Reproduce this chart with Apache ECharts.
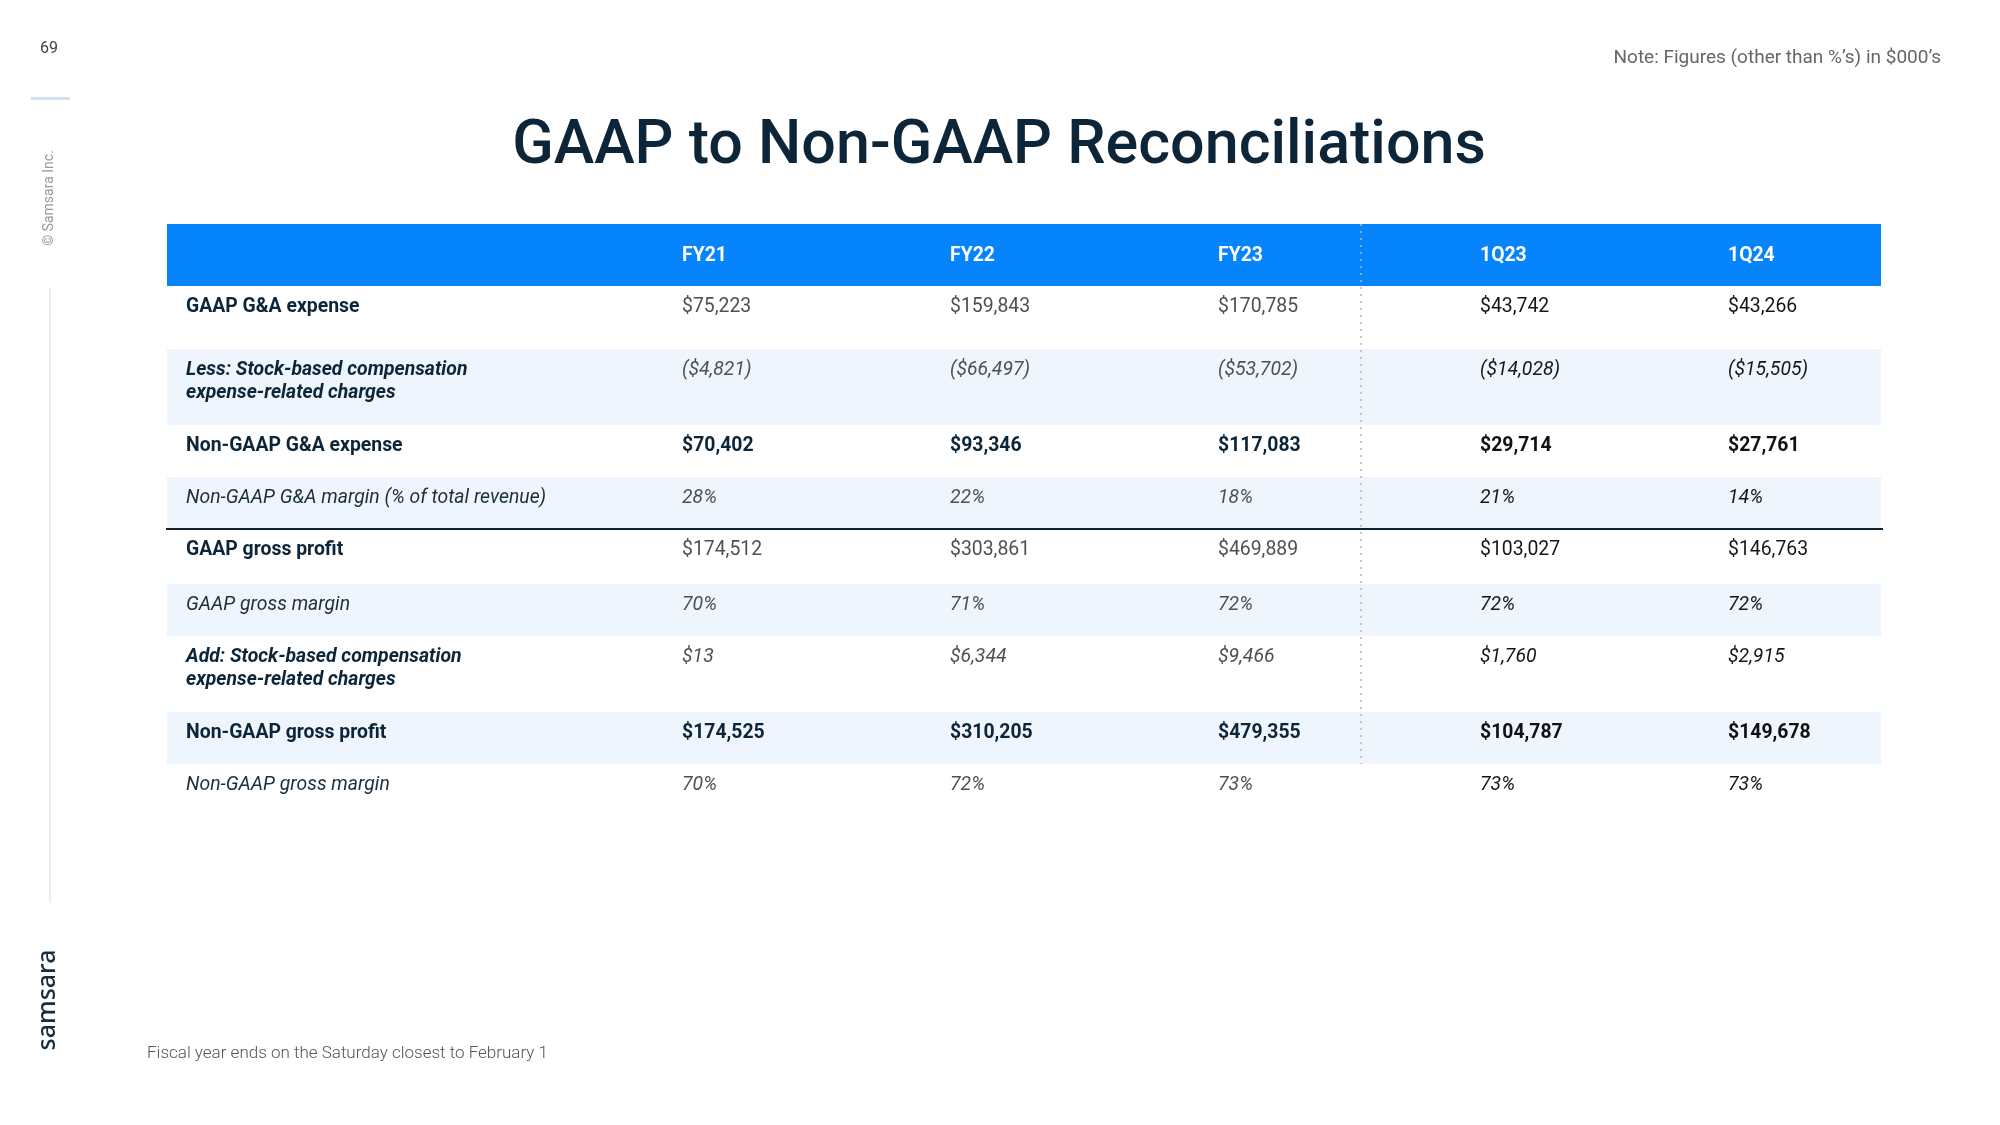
<!DOCTYPE html>
<html>
<head>
<meta charset="utf-8">
<script src="https://cdn.jsdelivr.net/npm/echarts@6/dist/echarts.min.js"></script>
<style>
html,body{margin:0;padding:0;background:#fff;}
#chart{width:2000px;height:1125px;}
</style>
</head>
<body>
<div id="chart"></div>
<script>
// ---------- DATA ----------
const categories = ['FY21', 'FY22', 'FY23', '1Q23', '1Q24'];
const rowLabels = [
  'GAAP G&A expense',
  'Less: Stock-based compensation\nexpense-related charges',
  'Non-GAAP G&A expense',
  'Non-GAAP G&A margin (% of total revenue)',
  'GAAP gross profit',
  'GAAP gross margin',
  'Add: Stock-based compensation\nexpense-related charges',
  'Non-GAAP gross profit',
  'Non-GAAP gross margin'
];
const gaapGAExpense = [75223, 159843, 170785, 43742, 43266];
const sbcGACharges = [-4821, -66497, -53702, -14028, -15505];
const nonGaapGAExpense = [70402, 93346, 117083, 29714, 27761];
const nonGaapGAMargin = [28, 22, 18, 21, 14];
const gaapGrossProfit = [174512, 303861, 469889, 103027, 146763];
const gaapGrossMargin = [70, 71, 72, 72, 72];
const sbcGrossCharges = [13, 6344, 9466, 1760, 2915];
const nonGaapGrossProfit = [174525, 310205, 479355, 104787, 149678];
const nonGaapGrossMargin = [70, 72, 73, 73, 73];
const rowValues = [gaapGAExpense, sbcGACharges, nonGaapGAExpense, nonGaapGAMargin,
  gaapGrossProfit, gaapGrossMargin, sbcGrossCharges, nonGaapGrossProfit, nonGaapGrossMargin];
const rowKinds = ['usd', 'usd', 'usd', 'pct', 'usd', 'pct', 'usd', 'usd', 'pct'];
const titleText = 'GAAP to Non-GAAP Reconciliations';
const noteText = 'Note: Figures (other than %\u2019s) in $000\u2019s';
const footText = 'Fiscal year ends on the Saturday closest to February 1';

// ---------- STYLE / LAYOUT ----------
const FONT = 'Roboto, "Noto Sans", sans-serif';
const NAVY = '#0c2538';
const TBL_W = 1714, TBL_H = 592;
const colX = [19, 515, 783, 1051, 1313, 1561];
const rowTops = [62, 125, 201, 253, 305, 360, 412, 488, 540, 592];
const headerH = 62;
const shaded = [false, true, false, true, false, true, false, true, false];
const labelBold = [true, true, true, false, true, false, true, true, false];
const italic = [false, true, false, true, false, true, true, false, true];
const valueBold = [false, false, true, false, false, false, false, true, false];
const dividerAfterRow = 3;
const dottedX = 1194;
const FS = 19.4;

function fmt(v, kind) {
  if (kind === 'pct') return v + '%';
  const s = '$' + Math.abs(v).toLocaleString('en-US');
  return v < 0 ? '(' + s + ')' : s;
}

const cellData = [];
rowValues.forEach((arr, r) => arr.forEach((v, c) => cellData.push([c, r, v])));

const chart = echarts.init(document.getElementById('chart'), null, {renderer: 'canvas'});

const option = {
  backgroundColor: '#ffffff',
  animation: false,
  grid: {left: 167, top: 224, width: TBL_W, height: TBL_H},
  xAxis: {type: 'value', min: 0, max: TBL_W, show: false},
  yAxis: {type: 'value', min: 0, max: TBL_H, inverse: true, show: false},
  graphic: [
    {type: 'text', x: 40, y: 49, style: {text: '69', fill: '#444', font: '16px ' + FONT, verticalAlign: 'middle'}},
    {type: 'rect', shape: {x: 31, y: 97, width: 39, height: 3}, style: {fill: '#d3e0f0'}},
    {type: 'text', x: 49, y: 198, rotation: Math.PI / 2,
      style: {text: '\u00A9 Samsara Inc.', fill: '#9a9a9a', font: '14px ' + FONT, align: 'center', verticalAlign: 'middle'}},
    {type: 'line', shape: {x1: 50, y1: 288, x2: 50, y2: 903}, style: {stroke: '#e6e6e6', lineWidth: 1.5}},
    {type: 'text', x: 48, y: 1000, rotation: Math.PI / 2,
      style: {text: 'samsara', fill: '#1c2b3a', font: '500 25px "Noto Sans", sans-serif', align: 'center', verticalAlign: 'middle'}},
    {type: 'text', x: 999, y: 148,
      style: {text: titleText, fill: NAVY, font: '500 61px ' + FONT, align: 'center', verticalAlign: 'middle'}},
    {type: 'text', x: 1941, y: 58,
      style: {text: noteText, fill: '#666', font: '19px ' + FONT, align: 'right', verticalAlign: 'middle'}},
    {type: 'text', x: 147, y: 1054,
      style: {text: footText, fill: '#555', font: '300 17px ' + FONT, align: 'left', verticalAlign: 'middle'}}
  ],
  series: [
    {
      type: 'custom', coordinateSystem: 'cartesian2d', silent: true, z: 1,
      data: rowLabels.map((_, r) => [r]),
      renderItem: function (params, api) {
        const r = api.value(0);
        const children = [];
        const p0 = api.coord([0, rowTops[r]]);
        const p1 = api.coord([TBL_W, rowTops[r + 1]]);
        if (shaded[r]) {
          children.push({type: 'rect', shape: {x: p0[0], y: p0[1], width: p1[0] - p0[0], height: p1[1] - p0[1]},
            style: {fill: '#eef5fd'}});
        }
        if (r === 0) {
          const h0 = api.coord([0, 0]);
          const h1 = api.coord([TBL_W, headerH]);
          children.push({type: 'rect', shape: {x: h0[0], y: h0[1], width: h1[0] - h0[0], height: h1[1] - h0[1]},
            style: {fill: '#0584fb'}});
        }
        if (r === dividerAfterRow) {
          const a = api.coord([-1, rowTops[r + 1]]);
          const b = api.coord([TBL_W + 2, rowTops[r + 1]]);
          children.push({type: 'line', z2: 10, shape: {x1: a[0], y1: a[1], x2: b[0], y2: b[1]},
            style: {stroke: '#13222f', lineWidth: 2}});
        }
        return {type: 'group', children: children};
      }
    },
    {
      type: 'custom', coordinateSystem: 'cartesian2d', silent: true, z: 3,
      data: [[0]],
      renderItem: function (params, api) {
        const a = api.coord([dottedX, 0]);
        const b = api.coord([dottedX, rowTops[rowTops.length - 2]]);
        return {type: 'line', shape: {x1: a[0], y1: a[1], x2: b[0], y2: b[1]},
          style: {stroke: '#b5b5b5', lineWidth: 1.5, lineDash: [2, 5]}};
      }
    },
    {
      type: 'custom', coordinateSystem: 'cartesian2d', silent: true, z: 4,
      data: categories.map((c, i) => [i]),
      renderItem: function (params, api) {
        const i = api.value(0);
        const p = api.coord([colX[i + 1], 32]);
        return {type: 'text', x: p[0], y: p[1],
          style: {text: categories[i], fill: '#ffffff', fontFamily: FONT, fontSize: FS, fontWeight: 'bold',
            align: 'left', verticalAlign: 'middle'}};
      }
    },
    {
      type: 'custom', coordinateSystem: 'cartesian2d', silent: true, z: 4,
      data: rowLabels.map((_, r) => [r]),
      renderItem: function (params, api) {
        const r = api.value(0);
        const p = api.coord([colX[0], rowTops[r] + 21.5 - 11.5]);
        return {type: 'text', x: p[0], y: p[1],
          style: {text: rowLabels[r], fill: labelBold[r] ? NAVY : '#1d2e3d', fontFamily: FONT, fontSize: FS,
            fontWeight: labelBold[r] ? 'bold' : 'normal', fontStyle: italic[r] ? 'italic' : 'normal',
            lineHeight: 23, align: 'left', verticalAlign: 'top'}};
      }
    },
    {
      type: 'custom', coordinateSystem: 'cartesian2d', silent: true, z: 4,
      data: cellData,
      renderItem: function (params, api) {
        const c = api.value(0), r = api.value(1), v = api.value(2);
        const p = api.coord([colX[c + 1], rowTops[r] + 21.5]);
        const quarter = c >= 3;
        let color;
        if (valueBold[r]) color = quarter ? '#111111' : NAVY;
        else color = quarter ? '#161616' : '#505050';
        return {type: 'text', x: p[0], y: p[1],
          style: {text: fmt(v, rowKinds[r]), fill: color, fontFamily: FONT, fontSize: FS,
            fontWeight: valueBold[r] ? 'bold' : 'normal', fontStyle: italic[r] ? 'italic' : 'normal',
            align: 'left', verticalAlign: 'middle'}};
      }
    }
  ]
};
chart.setOption(option);
</script>
</body>
</html>
